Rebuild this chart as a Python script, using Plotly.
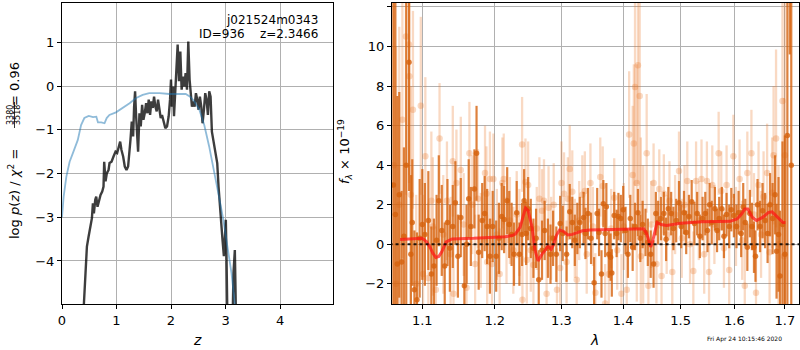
import plotly.graph_objects as go

# ---------------- left panel: redshift PDF ----------------
pz_z = [0.380, 0.433, 0.457, 0.488, 0.518, 0.549, 0.567, 0.585, 0.610, 0.628, 0.652, 0.677,
        0.707, 0.738, 0.762, 0.774, 0.799, 0.823, 0.854, 0.872, 0.909, 0.945, 0.982, 1.012,
        1.037, 1.067, 1.091, 1.122, 1.152, 1.183, 1.213, 1.238, 1.256, 1.280, 1.305, 1.323,
        1.341, 1.360, 1.378, 1.396, 1.421, 1.445, 1.470, 1.494, 1.518, 1.543, 1.567, 1.591,
        1.616, 1.640, 1.665, 1.689, 1.713, 1.738, 1.762, 1.787, 1.811, 1.835, 1.866, 1.896,
        1.927, 1.957, 1.982, 2.000, 2.018, 2.037, 2.055, 2.073, 2.098, 2.122, 2.146, 2.171,
        2.195, 2.220, 2.244, 2.268, 2.293, 2.317, 2.341, 2.366, 2.384, 2.409, 2.433, 2.457,
        2.482, 2.506, 2.530, 2.555, 2.579, 2.604, 2.628, 2.652, 2.677, 2.701, 2.726, 2.750,
        2.774, 2.799, 2.823, 2.848, 2.872, 2.896, 2.921, 2.945, 2.970, 2.988, 3.006, 3.018,
        3.037, 3.128, 3.146, 3.171, 3.195]
pz_logp = [-5.5, -4.28, -3.67, -3.44, -3.21, -3.02, -2.68, -2.91, -2.60, -2.53, -2.76, -2.60,
           -2.49, -2.41, -2.30, -1.73, -2.18, -1.99, -1.92, -1.76, -1.73, -1.61, -1.50, -1.53,
           -1.42, -1.27, -1.46, -1.61, -1.84, -1.92, -1.84, -1.53, -1.23, -0.81, -1.15, -0.47,
           -0.12, -0.69, -1.23, -1.50, -0.62, -0.92, -0.43, -0.77, -0.62, -0.39, -0.62, -0.31,
           -0.66, -0.35, -0.50, -0.24, -0.47, -0.58, -0.31, -0.54, -0.73, -0.66, -0.85, -0.96,
           -0.92, -0.69, -0.31, 0.15, -0.47, -0.01, -0.69, -0.24, 0.22, 0.95, 0.11, 0.79,
           -0.08, 0.22, -0.01, 0.30, -0.08, 1.02, 0.15, -0.31, -0.47, -0.35, -0.47, -0.16,
           -0.31, -0.54, -0.24, -0.47, -0.85, -0.54, -0.16, -0.31, -0.66, -0.12, -0.24, -1.04,
           -1.23, -1.38, -1.53, -1.76, -2.30, -2.76, -3.29, -3.52, -3.89, -3.37, -3.06, -3.90,
           -5.5, -5.5, -4.28, -3.75, -5.5]

chi_z = [0.0, 0.03, 0.08, 0.14, 0.21, 0.29, 0.35, 0.41, 0.49, 0.57, 0.63, 0.66, 0.72, 0.78,
         0.82, 0.87, 0.99, 1.12, 1.24, 1.36, 1.48, 1.60, 1.79, 1.97, 2.15, 2.27, 2.35, 2.43,
         2.52, 2.61, 2.70, 2.79, 2.88, 2.96, 3.04, 3.11, 3.17, 3.22]
chi_val = [-3.0, -2.53, -2.07, -1.73, -1.50, -1.23, -0.89, -0.73, -0.68, -0.71, -0.70, -0.83,
           -0.83, -0.85, -0.73, -0.66, -0.60, -0.50, -0.39, -0.27, -0.20, -0.16, -0.16, -0.18,
           -0.17, -0.18, -0.24, -0.35, -0.54, -0.89, -1.38, -1.92, -2.53, -3.06, -3.67, -4.28,
           -4.98, -5.5]

pz_xticks = [0, 1, 2, 3, 4]
pz_yticks = [-4, -3, -2, -1, 0, 1]

# ---------------- right panel: spectrum ----------------
# (wavelength [um], flux [1e-19], error)
dark_spec = [
    (1.0625, 3.0, 16.0), (1.0650, 1.5, 15.0), (1.0675, -1.0, 8.5), (1.0700, 2.5, 5.2),
    (1.0730, -0.9, 3.6), (1.0760, 0.4, 4.5), (1.0790, 4.0, 9.0), (1.0826, 9.2, 6.5),
    (1.0850, -0.5, 4.0), (1.0868, 1.1, 3.2), (1.0896, -2.3, 3.0), (1.0930, -2.8, 3.4),
    (1.0965, 0.3, 3.0), (1.1000, 1.0, 2.8), (1.1034, 0.5, 2.6), (1.1080, 1.2, 2.5),
    (1.1120, -1.5, 2.4), (1.1155, -1.1, 2.4), (1.1190, 0.2, 2.3), (1.1220, 2.2, 2.3),
    (1.1260, 0.7, 2.3), (1.1300, -1.1, 2.2), (1.1337, 1.1, 2.2), (1.1370, -0.2, 2.2),
    (1.1410, 0.9, 2.1), (1.1445, 2.1, 2.1), (1.1480, -0.6, 2.1), (1.1520, 1.35, 2.0),
    (1.1570, -2.1, 2.0), (1.1600, 0.0, 2.0), (1.1630, 2.3, 2.0), (1.1660, 0.9, 2.0),
    (1.1710, 2.8, 2.0), (1.1740, 4.6, 2.4), (1.1770, -0.4, 1.9), (1.1820, 1.2, 1.9),
    (1.1855, 1.55, 1.9), (1.1890, 0.9, 1.9), (1.1930, -0.6, 1.9), (1.1970, 0.9, 1.8),
    (1.2020, -0.6, 1.8), (1.2060, 0.3, 1.8), (1.2100, 1.4, 1.7), (1.2135, 1.25, 1.7),
    (1.2180, 2.2, 1.7), (1.2210, 1.0, 1.7), (1.2245, 0.5, 1.6), (1.2280, -0.5, 1.6),
    (1.2320, 1.6, 1.6), (1.2360, -0.5, 1.6), (1.2400, 0.5, 1.6), (1.2430, 2.2, 1.6),
    (1.2460, 0.55, 1.6), (1.2490, 1.8, 1.6), (1.2530, 0.8, 1.5), (1.2570, -0.2, 1.5),
    (1.2610, 0.3, 1.5), (1.2650, -1.8, 1.5), (1.2700, -0.3, 1.5), (1.2740, 0.7, 1.5),
    (1.2790, -0.2, 1.5), (1.2830, -0.5, 1.5), (1.2870, 0.3, 1.4), (1.2920, -0.5, 1.4),
    (1.2980, 1.05, 1.4), (1.3020, 0.55, 1.4), (1.3080, -0.5, 1.4), (1.3130, 1.65, 1.4),
    (1.3170, 1.1, 1.3), (1.3210, 0.2, 1.3), (1.3250, 0.8, 1.3), (1.3290, 1.1, 1.3),
    (1.3350, 1.35, 1.3), (1.3380, 0.55, 1.3), (1.3420, 1.55, 1.3), (1.3470, 0.3, 1.3),
    (1.3520, -1.95, 1.3), (1.3570, 1.55, 1.3), (1.3600, 0.6, 1.2), (1.3640, -1.5, 1.2),
    (1.3670, 2.05, 1.2), (1.3700, 0.55, 1.2), (1.3720, 1.9, 1.2), (1.3760, -0.5, 1.2),
    (1.3790, -0.65, 1.2), (1.3810, -1.45, 1.2), (1.3850, 1.45, 1.2), (1.3890, 0.55, 1.2),
    (1.3920, 1.4, 1.2), (1.3960, 1.3, 1.2), (1.4000, 1.75, 1.2), (1.4040, 0.7, 1.2),
    (1.4080, -0.5, 1.2), (1.4120, 1.3, 1.2), (1.4160, -0.15, 1.2), (1.4200, 0.9, 1.2),
    (1.4250, 1.6, 1.2), (1.4290, 0.3, 1.2), (1.4330, 1.0, 1.2), (1.4380, 0.6, 1.2),
    (1.4420, 0.1, 1.2), (1.4470, -0.5, 1.2), (1.4520, -1.0, 1.2), (1.4560, 1.55, 1.1),
    (1.4600, 1.1, 1.1), (1.4650, 1.3, 1.1), (1.4700, 1.55, 1.1), (1.4740, 0.25, 1.1),
    (1.4780, 1.8, 1.1), (1.4830, 1.55, 1.1), (1.4870, 0.8, 1.1), (1.4920, 1.2, 1.1),
    (1.4970, 2.1, 1.1), (1.5010, 0.9, 1.1), (1.5060, 1.6, 1.1), (1.5100, 0.6, 1.1),
    (1.5150, 1.4, 1.1), (1.5200, 2.15, 1.1), (1.5250, 1.05, 1.1), (1.5300, 1.55, 1.1),
    (1.5350, 0.4, 1.1), (1.5400, 1.3, 1.1), (1.5450, 1.55, 1.1), (1.5490, 0.7, 1.1),
    (1.5530, 2.0, 1.1), (1.5570, 1.1, 1.1), (1.5630, 1.8, 1.1), (1.5670, 0.7, 1.1),
    (1.5710, 1.3, 1.1), (1.5760, 1.8, 1.1), (1.5800, 0.4, 1.1), (1.5850, 1.5, 1.1),
    (1.5900, 0.9, 1.1), (1.5940, 1.75, 1.1), (1.5990, 1.45, 1.1), (1.6040, 0.9, 1.1),
    (1.6080, 1.6, 1.1), (1.6130, 0.55, 1.2), (1.6170, 1.9, 1.2), (1.6210, 1.1, 1.2),
    (1.6250, -0.15, 1.2), (1.6300, 1.55, 1.2), (1.6340, 0.9, 1.2), (1.6380, -0.15, 1.3),
    (1.6410, -0.6, 1.3), (1.6450, 2.0, 1.3), (1.6500, 0.9, 1.3), (1.6550, 1.7, 1.4),
    (1.6600, 1.2, 1.4), (1.6650, 0.55, 1.5), (1.6700, 2.0, 1.6), (1.6750, 1.3, 1.8),
    (1.6800, 2.5, 2.0), (1.6830, -0.35, 2.4), (1.6870, 0.5, 2.9), (1.6900, -1.6, 3.3),
    (1.6950, 1.0, 4.2), (1.7000, -0.5, 6.0), (1.7050, 5.5, 15.0), (1.7100, 14.0, 4.4),
    (1.7130, 4.0, 20.0),
]

light_spec = [
    (1.0630, 4.0, 18.0), (1.0660, -2.0, 12.0), (1.0700, 2.0, 9.0), (1.0740, 6.3, 7.0),
    (1.0786, 10.5, 8.0), (1.0826, 10.1, 7.0), (1.0830, 8.5, 5.0), (1.0850, 2.5, 5.5),
    (1.0877, 6.8, 5.0), (1.0920, -2.0, 4.5), (1.0980, 7.0, 4.5), (1.1010, -1.5, 4.0),
    (1.1040, 4.45, 4.0), (1.1080, -1.7, 3.8), (1.1120, 2.2, 3.5), (1.1140, 0.9, 3.5),
    (1.1180, -2.3, 3.2), (1.1230, 5.35, 2.8), (1.1280, 0.5, 3.0), (1.1330, 2.2, 3.0),
    (1.1380, -0.5, 2.9), (1.1410, 4.2, 2.8), (1.1420, -2.5, 2.8), (1.1460, 3.1, 2.7),
    (1.1520, 3.75, 2.7), (1.1560, 1.0, 2.6), (1.1600, -2.2, 2.6), (1.1640, 4.6, 2.6),
    (1.1680, 2.0, 2.5), (1.1720, -1.0, 2.5), (1.1760, 2.3, 2.5), (1.1800, 0.2, 2.4),
    (1.1860, 3.6, 2.4), (1.1880, 2.55, 2.4), (1.1890, -0.9, 2.4), (1.1930, 3.3, 2.4),
    (1.1960, -1.0, 2.3), (1.1980, 3.3, 2.3), (1.2030, 0.5, 2.3), (1.2070, -1.5, 2.3),
    (1.2110, 3.1, 2.3), (1.2130, 3.3, 2.3), (1.2170, 0.2, 2.2), (1.2220, 1.2, 2.2),
    (1.2270, -0.3, 2.2), (1.2320, 1.5, 2.2), (1.2360, 0.6, 2.2), (1.2400, 5.05, 2.4),
    (1.2405, -2.8, 2.2), (1.2450, 3.15, 2.2), (1.2470, -0.8, 2.2), (1.2490, 3.0, 2.2),
    (1.2530, -0.3, 2.1), (1.2570, -1.05, 2.1), (1.2620, 0.8, 2.1), (1.2660, 2.3, 2.1),
    (1.2700, 1.7, 2.1), (1.2730, 2.2, 2.1), (1.2770, -2.5, 2.1), (1.2800, 1.85, 2.1),
    (1.2840, 0.3, 2.1), (1.2880, 2.0, 2.1), (1.2930, -2.3, 2.1), (1.2980, -1.2, 2.1),
    (1.3000, 3.1, 2.1), (1.3040, 2.55, 2.1), (1.3080, -0.9, 2.1), (1.3100, 2.3, 2.1),
    (1.3130, 3.8, 2.2), (1.3170, 2.65, 2.1), (1.3210, 0.3, 2.0), (1.3240, -1.8, 2.0),
    (1.3280, 1.2, 2.0), (1.3330, 2.5, 2.0), (1.3370, 2.7, 2.0), (1.3400, -0.5, 2.0),
    (1.3460, 3.1, 2.0), (1.3500, 0.9, 2.0), (1.3540, -2.45, 2.0), (1.3620, 3.4, 2.0),
    (1.3660, 2.95, 2.0), (1.3700, -3.0, 2.0), (1.3760, -1.5, 2.0), (1.3800, 0.8, 2.0),
    (1.3850, 2.35, 2.0), (1.3900, -0.3, 2.0), (1.3970, -2.5, 2.0), (1.4010, 0.9, 2.2),
    (1.4060, -2.3, 2.2), (1.4100, 5.55, 3.2), (1.4160, 3.5, 3.5), (1.4180, 5.1, 4.0),
    (1.4200, 7.95, 5.0), (1.4230, 3.1, 6.0), (1.4250, 9.05, 6.0), (1.4280, 7.5, 6.0),
    (1.4300, -0.6, 6.0), (1.4340, 0.5, 3.5), (1.4400, 4.6, 3.0), (1.4430, -2.1, 2.5),
    (1.4480, 1.0, 2.2), (1.4520, 3.1, 2.0), (1.4570, -1.0, 2.0), (1.4620, 2.8, 2.0),
    (1.4660, -1.6, 2.0), (1.4700, 2.55, 2.0), (1.4750, 0.5, 2.0), (1.4800, 2.2, 2.0),
    (1.4850, -1.4, 2.0), (1.4900, 1.5, 2.0), (1.4970, 3.7, 2.0), (1.5020, 0.3, 2.0),
    (1.5070, 2.0, 2.0), (1.5120, 3.2, 2.0), (1.5170, 0.0, 2.0), (1.5230, -1.35, 2.0),
    (1.5280, 3.2, 2.0), (1.5330, 1.2, 2.0), (1.5380, 3.3, 2.0), (1.5430, -0.5, 2.0),
    (1.5480, 3.2, 2.0), (1.5520, -1.4, 2.0), (1.5580, 3.0, 2.0), (1.5620, 1.0, 2.0),
    (1.5700, 4.6, 2.1), (1.5750, 2.7, 2.0), (1.5800, -0.2, 2.0), (1.5850, 3.0, 2.0),
    (1.5900, -1.3, 2.0), (1.5980, 4.45, 2.1), (1.6030, 0.9, 2.0), (1.6100, 3.3, 2.0),
    (1.6150, 0.2, 2.0), (1.6200, -2.1, 2.0), (1.6250, 3.6, 2.1), (1.6330, 4.6, 2.2),
    (1.6380, 1.5, 2.1), (1.6420, -2.45, 2.2), (1.6470, 3.0, 2.2), (1.6520, 0.5, 2.2),
    (1.6570, 2.4, 2.3), (1.6640, 3.6, 2.5), (1.6690, -0.4, 2.6), (1.6740, 2.6, 2.8),
    (1.6770, 4.5, 3.5), (1.6820, 5.35, 4.5), (1.6870, 0.0, 4.0), (1.6950, 7.25, 6.5),
    (1.6980, -0.6, 8.0), (1.7000, 4.5, 12.0),
]

model_lam = [1.071, 1.080, 1.090, 1.100, 1.105, 1.110, 1.114, 1.118, 1.122, 1.126, 1.132,
             1.140, 1.170, 1.200, 1.215, 1.225, 1.230, 1.237, 1.241, 1.245, 1.249, 1.252,
             1.255, 1.259, 1.264, 1.270, 1.275, 1.279, 1.284, 1.288, 1.292, 1.297, 1.303,
             1.310, 1.317, 1.325, 1.333, 1.345, 1.370, 1.400, 1.425, 1.435, 1.440, 1.444,
             1.447, 1.450, 1.453, 1.458, 1.465, 1.475, 1.500, 1.538, 1.570, 1.592, 1.605,
             1.613, 1.620, 1.626, 1.635, 1.643, 1.655, 1.667, 1.674, 1.685, 1.696, 1.701]
model_flux = [0.24, 0.27, 0.30, 0.30, 0.15, -0.13, -0.45, -0.67, -0.62, -0.38, 0.12,
              0.27, 0.30, 0.33, 0.38, 0.44, 0.52, 0.85, 1.40, 1.83, 1.70, 1.30,
              0.85, -0.25, -0.84, -0.50, -0.30, -0.08, -0.25, 0.00, 0.44, 0.72, 0.65,
              0.47, 0.50, 0.59, 0.68, 0.72, 0.74, 0.75, 0.77, 0.78, 0.54, 0.20,
              -0.13, 0.10, 0.54, 1.10, 1.00, 0.95, 1.06, 1.14, 1.15, 1.16, 1.28,
              1.50, 1.78, 1.78, 1.36, 1.20, 1.36, 1.61, 1.64, 1.36, 1.10, 1.10]

spec_xticks = [1.1, 1.2, 1.3, 1.4, 1.5, 1.6, 1.7]
spec_yticks = [-2, 0, 2, 4, 6, 8, 10, 12]
zero_lam = [1.05, 1.74]
zero_flux = [0, 0]

# ---------------- figure ----------------
W, H = 800, 350


def px(x):
    return x / W


def py(y):
    return 1 - y / H


ORANGE_DARK = "rgba(214,98,12,0.80)"
ORANGE_LIGHT = "rgba(232,120,40,0.28)"
FONT = "DejaVu Sans"

fig = go.Figure()

fig.add_trace(go.Scatter(x=pz_z, y=pz_logp, mode="lines", xaxis="x", yaxis="y",
                         line=dict(color="rgba(0,0,0,0.76)", width=2.4), showlegend=False))
fig.add_trace(go.Scatter(x=chi_z, y=chi_val, mode="lines", xaxis="x", yaxis="y",
                         line=dict(color="rgba(31,119,180,0.5)", width=1.8), showlegend=False))

lx, ly, le = zip(*light_spec)
fig.add_trace(go.Scatter(x=list(lx), y=list(ly), mode="markers", xaxis="x2", yaxis="y2",
                         marker=dict(color=ORANGE_LIGHT, size=6.5, line=dict(width=0)),
                         error_y=dict(type="data", array=list(le), visible=True,
                                      color=ORANGE_LIGHT, thickness=2.3, width=0),
                         showlegend=False))
dx, dy, de = zip(*dark_spec)
fig.add_trace(go.Scatter(x=list(dx), y=list(dy), mode="markers", xaxis="x2", yaxis="y2",
                         marker=dict(color=ORANGE_DARK, size=5.5, line=dict(width=0)),
                         error_y=dict(type="data", array=list(de), visible=True,
                                      color=ORANGE_DARK, thickness=2.2, width=0),
                         showlegend=False))
fig.add_trace(go.Scatter(x=model_lam, y=model_flux, mode="lines", xaxis="x2", yaxis="y2",
                         line=dict(color="rgba(255,20,20,0.72)", width=3), showlegend=False))
fig.add_trace(go.Scatter(x=zero_lam, y=zero_flux, mode="lines", xaxis="x2", yaxis="y2",
                         line=dict(color="rgba(0,0,0,0.85)", width=2, dash="dot"),
                         showlegend=False))

axis_common = dict(showline=True, mirror=True, linecolor="black", linewidth=1,
                   ticks="outside", ticklen=4, tickwidth=1, tickcolor="black",
                   showgrid=True, gridcolor="#b0b0b0", gridwidth=1, zeroline=False,
                   automargin=False,
                   tickfont=dict(family=FONT, size=13, color="black"))


def fmt(v):
    s = f"{v:g}"
    return s.replace("-", "\u2212")


fig.update_layout(
    width=W, height=H, margin=dict(l=0, r=0, t=0, b=0, autoexpand=False),
    paper_bgcolor="white", plot_bgcolor="white",
    font=dict(family=FONT, size=13, color="black"),
    xaxis=dict(domain=[px(62), px(333)], anchor="y", range=[0, 4.972],
               tickvals=pz_xticks, ticktext=[fmt(v) for v in pz_xticks], **axis_common),
    yaxis=dict(domain=[py(304), py(3)], anchor="x", range=[-4.985, 1.902],
               tickvals=pz_yticks, ticktext=[fmt(v) for v in pz_yticks], **axis_common),
    xaxis2=dict(domain=[px(392), px(799)], anchor="y2", type="log",
                range=[0.02559, 0.23779],
                tickvals=spec_xticks, ticktext=[fmt(v) for v in spec_xticks], **axis_common),
    yaxis2=dict(domain=[py(304), py(3)], anchor="x2", range=[-3.02, 12.2],
                tickvals=spec_yticks, ticktext=[fmt(v) for v in spec_yticks], **axis_common),
)

ann = []


def A(text, x, y, size=13, angle=0, xanchor="center", yanchor="middle"):
    ann.append(dict(text=text, x=px(x), y=py(y), xref="paper", yref="paper",
                    showarrow=False, textangle=angle, xanchor=xanchor, yanchor=yanchor,
                    font=dict(family=FONT, size=size, color="black")))


A("j021524m0343", 320, 20, size=12, xanchor="right")
A("ID=936\u00a0\u00a0\u00a0\u00a0z=2.3466", 320, 34, size=12, xanchor="right")
A("<i>z</i>", 197, 340, size=14)
A("<i>λ</i>", 594, 340, size=14)
A("<i>f</i><sub><i>λ</i></sub> × 10<sup>−19</sup>", 345, 152, size=13, angle=-90)
# left y label composed: log p(z) / chi^2 = 3380/3518 = 0.96
A("log <i>p</i>(<i>z</i>) / <i>χ</i><sup>2</sup> =", 14, 194, size=13, angle=-90)
A("3380", 11, 115, size=8, angle=-90)
A("3518", 18, 115, size=8, angle=-90)
A("= 0.96", 14, 84, size=13, angle=-90)
A("Fri Apr 24 10:15:46 2020", 744, 339, size=6)

fig.update_layout(annotations=ann)
fig.add_shape(type="line", xref="paper", yref="paper",
              x0=px(14.5), x1=px(14.5), y0=py(102), y1=py(128),
              line=dict(color="black", width=0.8))

fig.write_html("out.html", config={"displayModeBar": False},
               post_script="document.body.style.margin='0';"
                           "document.body.style.overflow='hidden';")
